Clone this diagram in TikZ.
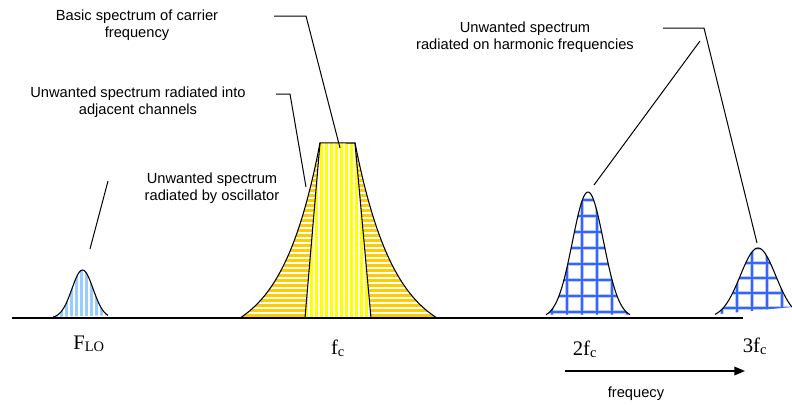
\documentclass[tikz,border=0pt]{standalone}
\usepackage{fontspec}
\setmainfont{Liberation Serif}
\setsansfont{Liberation Sans}
\usetikzlibrary{positioning, arrows.meta, calc}

\definecolor{lobule}{HTML}{99CCFF}
\definecolor{adjorange}{HTML}{FFCC00}
\definecolor{carryellow}{HTML}{FFFF00}
\definecolor{gridblue}{HTML}{3366FF}

% outline of the carrier with its adjacent channels
\newcommand{\carrierpath}{plot[domain=0:80, samples=50] ({240+\x}, {318-25*(exp(0.026*\x)-1)}) -- plot[domain=82:0, samples=50] ({437-\x}, {318-25*(exp(0.02536*\x)-1)})}

\begin{document}
\begin{tikzpicture}[x=0.75pt, y=-0.75pt,
					% --- Styles ---
					note/.style={
						font=\sffamily\fontsize{11}{12.8}\selectfont, align=center, inner sep=0pt
					},
					freqlabel/.style={
						font=\fontsize{15.5}{18}\selectfont, inner sep=0pt, anchor=base
					},
					leader/.style={
						draw, black, line width=0.75pt
					},
					outline/.style={
						draw, black, line width=0.8pt
					},
					axisline/.style={
						draw, black, line width=1.9pt
					},
					gridhalo/.style={
						draw, gridblue!35, line width=2.4pt
					},
					gridline/.style={
						draw, gridblue, line width=1.1pt
					}
					]
					
					\useasboundingbox (0,0) rectangle (792,404);
					
					% --- 1. Oscillator lobe (F_LO) ---
					\begin{scope}
						\clip (53,318) plot[domain=53:108, samples=60] (\x, {318-48*exp(-(((\x-82.5)/15)^2))}) -- cycle;
						\foreach \i in {50,55,...,110}
						\fill [lobule] (\i,260) rectangle ++(2.6,60);
					\end{scope}
					\draw [outline] plot[domain=53:108, samples=60] (\x, {318-48*exp(-(((\x-82.5)/15)^2))});
					\coordinate (lo_peak) at (90,249);
					
					% --- 2. Carrier with adjacent channels ---
					\begin{scope}
						\clip \carrierpath -- cycle;
						\foreach \j in {144,149,...,320}
						\fill [adjorange] (230,\j) rectangle (450,\j+3);
					\end{scope}
					\begin{scope}
						\fill [white] (305,318) -- (320,143) -- (355,143) -- (371,318) -- cycle;
						\clip (305,318) -- (320,143) -- (355,143) -- (371,318) -- cycle;
						\foreach \i in {300,305,...,375}
						\fill [carryellow] (\i,140) rectangle ++(3,180);
					\end{scope}
					\draw [outline] \carrierpath;
					\draw [outline] (305,318) -- (320,143);
					\draw [outline] (371,318) -- (355,143);
					\coordinate (carrier_top) at (340,148);
					\coordinate (adjacent_edge) at (306,187);
					
					% --- 3. Harmonics (2fc, 3fc) ---
					\begin{scope}
						\clip (546,318) plot[domain=546:630, samples=80] (\x, {318-126*exp(-(((\x-588)/22)^2))}) -- cycle;
						\foreach \i in {552,567,...,627} \draw [gridhalo] (\i,180) -- (\i,320);
						\foreach \j in {200,216,...,320} \draw [gridhalo] (540,\j) -- (635,\j);
						\foreach \i in {552,567,...,627} \draw [gridline] (\i,180) -- (\i,320);
						\foreach \j in {200,216,...,320} \draw [gridline] (540,\j) -- (635,\j);
					\end{scope}
					\draw [outline] plot[domain=546:630, samples=80] (\x, {318-126*exp(-(((\x-588)/22)^2))});
					\coordinate (second_peak) at (594,185);
					
					\begin{scope}
						\clip (715,318) plot[domain=715:792, samples=80] (\x, {318-70*exp(-(((\x-758)/25)^2))}) -- cycle;
						\foreach \i in {722,737,...,797} \draw [gridhalo] (\i,240) -- (\i,320);
						\foreach \j in {248,263,...,320} \draw [gridhalo] (710,\j) -- (795,\j);
						\foreach \i in {722,737,...,797} \draw [gridline] (\i,240) -- (\i,320);
						\foreach \j in {248,263,...,320} \draw [gridline] (710,\j) -- (795,\j);
					\end{scope}
					\draw [outline] plot[domain=715:792, samples=80] (\x, {318-70*exp(-(((\x-758)/25)^2))});
					\coordinate (third_peak) at (757,243);
					
					% --- 4. Frequency axis ---
					\draw [axisline] (12,318) -- (743,318);
					
					% Axis labels
					\node [freqlabel] (f_lo) at (89,349) {F\textsubscript{LO}};
					\node [freqlabel] (f_c) at (338,354) {f\textsubscript{c}};
					\node [freqlabel] (f_2c) at (585,355) {2f\textsubscript{c}};
					\node [freqlabel] (f_3c) at (755,352) {3f\textsubscript{c}};
					
					% Frequency arrow
					\coordinate (arrow_start) at (565,371);
					\coordinate (arrow_end) at (745,371);
					\draw [line width=1pt, -{Triangle[length=8pt, width=6.5pt]}] (arrow_start) -- (arrow_end);
					\node [note, anchor=base] (freq_text) at (636,397) {frequecy};
					
					% --- 5. Notes and leaders ---
					\node [note] (basic) at (137,25) {Basic spectrum of carrier\\frequency};
					\draw [leader] (274,16) -- (306,16) -- (carrier_top);
					
					\node [note] (adjacent) at (138,102) {Unwanted spectrum radiated into\\adjacent channels};
					\draw [leader] (276,94) -- (290,94) -- (adjacent_edge);
					
					\node [note] (oscillator) at (212,188) {Unwanted spectrum\\radiated by oscillator};
					\draw [leader] (108,181) -- (lo_peak);
					
					\node [note] (harmonic) at (525,37) {Unwanted spectrum\\radiated on harmonic frequencies};
					\draw [leader] (663,28) -- (704,28) -- (third_peak);
					\draw [leader] (700,41) -- (second_peak);
					
				\end{tikzpicture}
\end{document}
